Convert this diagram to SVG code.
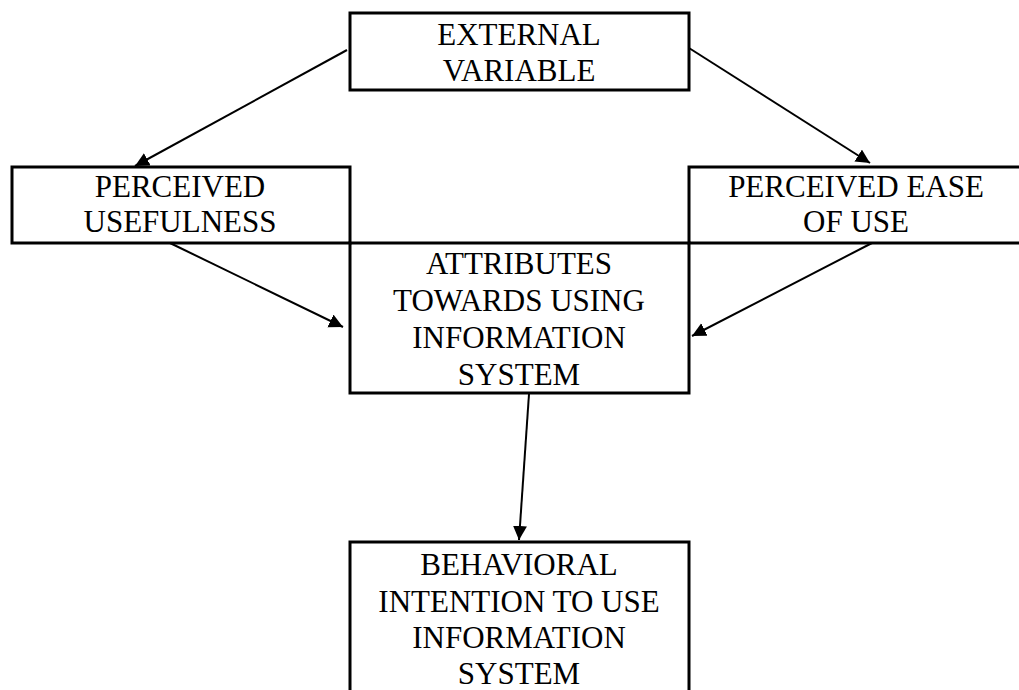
<svg xmlns="http://www.w3.org/2000/svg" width="1019" height="690" viewBox="0 0 1019 690">
<style>
.box{fill:none;stroke:#000;stroke-width:3}
.t{font-family:"Liberation Serif","Times New Roman",serif;font-size:31px;fill:#000;text-anchor:middle}
.c{stroke:#000;stroke-width:2;fill:none;marker-end:url(#ah)}
</style>
<defs>
<marker id="ah" markerWidth="8" markerHeight="8" refX="7" refY="3.5" orient="auto" markerUnits="strokeWidth">
<path d="M0,0 L7,3.5 L0,7 z" fill="#000"/>
</marker>
</defs>
<rect width="1019" height="690" fill="#fff"/>
<g id="connectors">
<line class="c" x1="347" y1="50" x2="135" y2="166"/>
<line class="c" x1="689" y1="48" x2="870" y2="163"/>
<line class="c" x1="170" y1="243" x2="343" y2="327"/>
<line class="c" x1="872" y1="243" x2="692" y2="336"/>
<line class="c" x1="529" y1="394" x2="519" y2="540"/>
</g>
<g id="external">
<rect class="box" x="350" y="13" width="339" height="77"/>
<text class="t" x="519" y="45">EXTERNAL</text>
<text class="t" x="519" y="81">VARIABLE</text>
</g>
<g id="usefulness">
<rect class="box" x="12" y="167" width="338" height="76"/>
<text class="t" x="180" y="197">PERCEIVED</text>
<text class="t" x="180" y="232">USEFULNESS</text>
</g>
<g id="ease">
<rect class="box" x="689" y="167" width="336" height="76"/>
<text class="t" x="856" y="197">PERCEIVED EASE</text>
<text class="t" x="856" y="232">OF USE</text>
</g>
<g id="attributes">
<rect class="box" x="350" y="243" width="339" height="150"/>
<text class="t" x="519" y="274">ATTRIBUTES</text>
<text class="t" x="519" y="311">TOWARDS USING</text>
<text class="t" x="519" y="348">INFORMATION</text>
<text class="t" x="519" y="385">SYSTEM</text>
</g>
<g id="behavioral">
<rect class="box" x="350" y="542" width="339" height="160"/>
<text class="t" x="519" y="575">BEHAVIORAL</text>
<text class="t" x="519" y="612">INTENTION TO USE</text>
<text class="t" x="519" y="648">INFORMATION</text>
<text class="t" x="519" y="684">SYSTEM</text>
</g>
</svg>
